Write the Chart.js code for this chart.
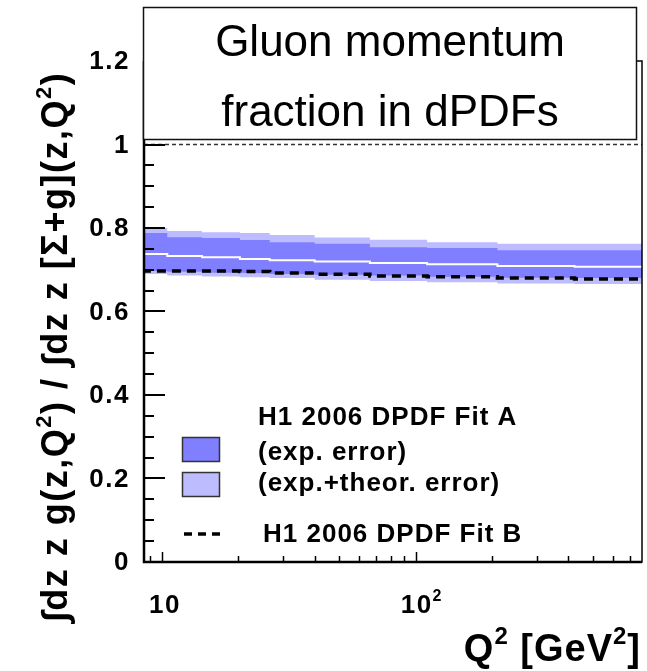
<!DOCTYPE html>
<html>
<head>
<meta charset="utf-8">
<script src="https://cdn.jsdelivr.net/npm/chart.js@4.4.1/dist/chart.umd.min.js"></script>
<style>
  html, body { margin: 0; padding: 0; background: #fff; }
  #wrap { width: 647px; height: 671px; }
</style>
</head>
<body>
<div id="wrap"><canvas id="c" width="647" height="671"></canvas></div>
<script>
// Q^2 bin edges [GeV^2]; the fit bands are histogram-like steps
const q2 = [8.5, 10.5, 14.4, 20.3, 26.6, 40, 66, 111, 210, 423, 780]

// H1 2006 DPDF Fit A, exp.+theor. error band
const fitATotHi = [0.805, 0.800, 0.793, 0.790, 0.788, 0.783, 0.777, 0.772, 0.766, 0.762, 0.762]
const fitATotLo = [0.692, 0.690, 0.686, 0.684, 0.682, 0.680, 0.676, 0.673, 0.670, 0.667, 0.666]
// H1 2006 DPDF Fit A, exp. error band
const fitAExpHi = [0.790, 0.788, 0.778, 0.776, 0.771, 0.766, 0.762, 0.754, 0.752, 0.747, 0.747]
const fitAExpLo = [0.697, 0.697, 0.695, 0.693, 0.692, 0.690, 0.688, 0.686, 0.683, 0.681, 0.680]
// central value of Fit A
const fitACentral = [0.742, 0.738, 0.733, 0.730, 0.726, 0.723, 0.720, 0.716, 0.713, 0.709, 0.707]
// H1 2006 DPDF Fit B
const fitB = [0.702, 0.697, 0.697, 0.697, 0.696, 0.692, 0.689, 0.685, 0.683, 0.680, 0.678]

// axis ticks
const yTickValues = [0, 0.2, 0.4, 0.6, 0.8, 1, 1.2]
const yTickLabels = ['0', '0.2', '0.4', '0.6', '0.8', '1', '1.2']
const xMajorTicks = [10, 100]
const xMinorTicks = [9, 20, 30, 40, 50, 60, 70, 80, 90, 200, 300, 400, 500, 600, 700]

const DARK = '#7f7fff'
const LIGHT = '#bcbcff'
const FONT = '"Liberation Sans", Arial, Helvetica, sans-serif'

const pts = (arr) => q2.map((q, i) => ({ x: q, y: arr[i] }))

// text with superscripts: parts = [[text, isSup], ...]
function richWidth(ctx, parts, size) {
  let w = 0
  parts.forEach(([t, sup]) => {
    ctx.font = `bold ${sup ? Math.round(size * 0.62) : size}px ${FONT}`
    w += ctx.measureText(t).width
  })
  return w
}
function drawRich(ctx, parts, x, y, size, align) {
  const w = richWidth(ctx, parts, size)
  let cx = align === 'center' ? x - w / 2 : align === 'right' ? x - w : x
  ctx.textAlign = 'left'
  ctx.textBaseline = 'alphabetic'
  parts.forEach(([t, sup]) => {
    ctx.font = `bold ${sup ? Math.round(size * 0.62) : size}px ${FONT}`
    ctx.fillText(t, cx, sup ? y - size * 0.45 : y)
    cx += ctx.measureText(t).width
  })
}

const rootStyle = {
  id: 'rootStyle',
  afterDatasetsDraw(chart) {
    const { ctx, chartArea: a, scales: { x, y } } = chart
    ctx.save()
    ctx.strokeStyle = '#000'
    ctx.lineWidth = 2

    // y ticks, inside the frame: long every 0.2, short every 0.05
    for (let k = 0; k <= 24; k++) {
      const v = k * 0.05
      const py = Math.round(y.getPixelForValue(v))
      const len = k % 4 === 0 ? 21 : 10
      ctx.beginPath()
      ctx.moveTo(a.left, py)
      ctx.lineTo(a.left + len, py)
      ctx.stroke()
    }
    // x ticks on the log axis
    ctx.lineWidth = 1.5
    xMinorTicks.forEach(v => {
      const px = Math.round(x.getPixelForValue(v)) + 0.5
      ctx.beginPath(); ctx.moveTo(px, a.bottom); ctx.lineTo(px, a.bottom - 6); ctx.stroke()
    })
    xMajorTicks.forEach(v => {
      const px = Math.round(x.getPixelForValue(v)) + 0.5
      ctx.beginPath(); ctx.moveTo(px, a.bottom); ctx.lineTo(px, a.bottom - 10); ctx.stroke()
    })

    // frame
    ctx.lineWidth = 1.5
    ctx.strokeRect(a.left, a.top, a.right - a.left, a.bottom - a.top)
    ctx.lineWidth = 2.5
    ctx.beginPath()
    ctx.moveTo(a.left, a.top); ctx.lineTo(a.left, a.bottom); ctx.lineTo(a.right, a.bottom)
    ctx.stroke()

    // y tick labels
    ctx.fillStyle = '#000'
    ctx.font = `bold 26px ${FONT}`
    ctx.letterSpacing = '1.5px'
    ctx.textAlign = 'right'
    ctx.textBaseline = 'middle'
    yTickValues.forEach((v, i) => {
      ctx.fillText(yTickLabels[i], a.left - 14, y.getPixelForValue(v) + 1)
    })

    // x tick labels: 10 and 10^2
    drawRich(ctx, [['10', false]], x.getPixelForValue(10) + 3, 613, 26, 'center')
    const px100 = x.getPixelForValue(100)
    ctx.font = `bold 26px ${FONT}`
    const w10 = ctx.measureText('10').width
    drawRich(ctx, [['10', false], ['2', true]], px100 - w10 / 2 + 1, 613, 26, 'left')

    // axis titles
    ctx.letterSpacing = '1px'
    drawRich(ctx, [['Q', false], ['2', true], [' [GeV', false], ['2', true], [']', false]], 641, 661, 38, 'right')

    ctx.save()
    ctx.translate(67, 347)
    ctx.rotate(-Math.PI / 2)
    ctx.letterSpacing = '1.5px'
    drawRich(ctx, [
      ['\u222Bdz z g(z,Q', false], ['2', true], [') / \u222Bdz z [\u03A3+g](z,Q', false], ['2', true], [')', false]
    ], 0, 0, 36, 'center')
    ctx.restore()

    // title box
    ctx.letterSpacing = '0px'
    ctx.fillStyle = '#fff'
    ctx.fillRect(143, 7, 494, 133)
    ctx.strokeStyle = '#111'
    ctx.lineWidth = 1.5
    ctx.strokeRect(143.5, 7.5, 493, 132)
    ctx.fillStyle = '#000'
    ctx.font = `44px ${FONT}`
    ctx.textAlign = 'center'
    ctx.textBaseline = 'alphabetic'
    ctx.fillText('Gluon momentum', 390, 56)
    ctx.fillText('fraction in dPDFs', 390, 126)

    // legend
    ctx.font = `bold 26px ${FONT}`
    ctx.letterSpacing = '1px'
    ctx.textAlign = 'left'
    ctx.textBaseline = 'middle'
    ctx.fillText('H1 2006 DPDF Fit A', 258, 418)
    ctx.fillText('(exp. error)', 258, 453)
    ctx.fillText('(exp.+theor. error)', 258, 484)
    ctx.fillText('H1 2006 DPDF Fit B', 263, 535)
    ctx.strokeStyle = '#333'
    ctx.lineWidth = 1.5
    ctx.fillStyle = DARK
    ctx.fillRect(182, 437, 38, 25); ctx.strokeRect(182.5, 437.5, 37, 24)
    ctx.fillStyle = LIGHT
    ctx.fillRect(182, 472, 38, 25); ctx.strokeRect(182.5, 472.5, 37, 24)
    ctx.strokeStyle = '#000'
    ctx.lineWidth = 3.5
    ctx.setLineDash([8, 6])
    ctx.beginPath(); ctx.moveTo(184, 534); ctx.lineTo(222, 534); ctx.stroke()
    ctx.setLineDash([])
    ctx.restore()
  }
}

const line = (data, extra) => Object.assign({
  data: pts(data),
  stepped: 'after',
  pointRadius: 0,
  borderWidth: 0,
  borderColor: 'rgba(0,0,0,0)',
  fill: false
}, extra)

new Chart(document.getElementById('c'), {
  type: 'line',
  data: {
    datasets: [
      line(fitACentral, { label: 'Fit A', borderColor: '#fff', borderWidth: 2, order: 0 }),
      line(fitB, { label: 'H1 2006 DPDF Fit B', borderColor: '#000', borderWidth: 3.5, borderDash: [9, 6], order: 1 }),
      line(fitAExpHi, { label: 'exp. error', backgroundColor: DARK, fill: 3, order: 2 }),
      line(fitAExpLo, { order: 3 }),
      line(fitATotHi, { label: 'exp.+theor. error', backgroundColor: LIGHT, fill: 5, order: 4 }),
      line(fitATotLo, { order: 5 }),
      {
        data: [{ x: q2[0], y: 1 }, { x: q2[q2.length - 1], y: 1 }],
        pointRadius: 0, borderColor: '#333', borderWidth: 1.5, borderDash: [4, 3], fill: false, order: 6
      }
    ]
  },
  options: {
    responsive: false,
    animation: false,
    devicePixelRatio: 1,
    layout: { padding: { left: 144, right: 5, top: 61, bottom: 109 } },
    plugins: { legend: { display: false }, tooltip: { enabled: false } },
    scales: {
      x: { type: 'logarithmic', min: 8.5, max: 780, display: false },
      y: { type: 'linear', min: 0, max: 1.2, display: false }
    }
  },
  plugins: [rootStyle]
})
</script>
</body>
</html>
